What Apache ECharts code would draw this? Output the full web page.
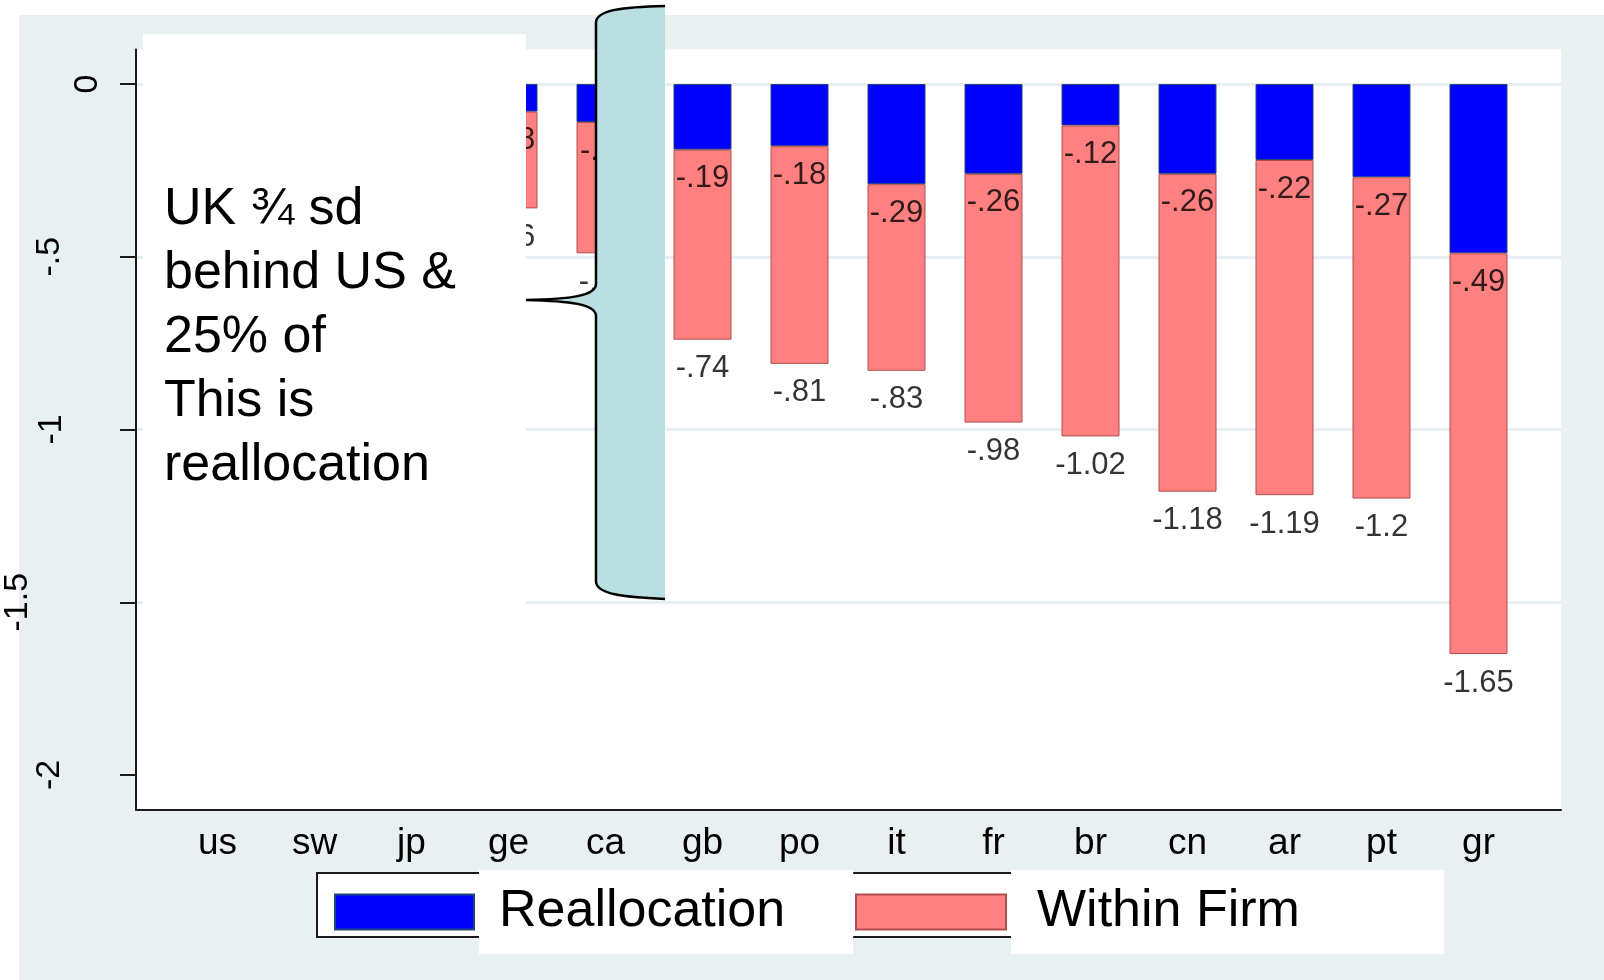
<!DOCTYPE html>
<html>
<head>
<meta charset="utf-8">
<title>Management gap decomposition</title>
<script src="https://cdn.jsdelivr.net/npm/echarts@6/dist/echarts.min.js"></script>
<style>
  html, body { margin: 0; padding: 0; background: #fff; }
  /* grey slide panel behind the chart */
  #panel { position: absolute; left: 19px; top: 15px; width: 1585px; height: 965px; background: #e8f0f2; }
  #chart { position: absolute; left: 0; top: 0; width: 1604px; height: 980px; }
</style>
</head>
<body>
<div id="panel"></div>
<div id="chart"></div>
<script>
// data (us, sw, jp sit under the text box)
const countries = ['us', 'sw', 'jp', 'ge', 'ca', 'gb', 'po', 'it', 'fr', 'br', 'cn', 'ar', 'pt', 'gr']
const reallocation = [0, -0.05, -0.06, -0.08, -0.11, -0.19, -0.18, -0.29, -0.26, -0.12, -0.26, -0.22, -0.27, -0.49]
const totalGap = [0, -0.21, -0.27, -0.36, -0.49, -0.74, -0.81, -0.83, -0.98, -1.02, -1.18, -1.19, -1.2, -1.65]
const yTicks = [0, -0.5, -1, -1.5, -2]
const yTickLabels = ['0', '-.5', '-1', '-1.5', '-2']
const noteLines = ['UK ¾ sd', 'behind US &', '25% of', 'This is', 'reallocation']

// within firm part = rest of the bar below the reallocation part
const withinFirm = totalGap.map((t, i) => +(t - reallocation[i]).toFixed(2))

const FONT = '"Liberation Sans", Arial, Helvetica, sans-serif'
const INK = '#1a1a1a'
// stata style numbers: -.19 instead of -0.19
const fmt = v => String(v).replace(/^(-?)0\./, '$1.')

const chart = echarts.init(document.getElementById('chart'))

const valueLabel = {
    show: true,
    position: 'bottom',
    distance: 13,
    fontSize: 31,
    lineHeight: 31,
    color: '#000',
    fontFamily: FONT,
    formatter: p => fmt(p.value)
}

const option = {
    backgroundColor: 'transparent',
    animation: false,
    textStyle: { fontFamily: FONT },
    grid: [
        // frame: white plot area and the two axis lines
        { left: 136, right: 43, top: 49.45, bottom: 170.45, show: true, backgroundColor: '#fff', borderWidth: 0 },
        // ticks and grid lines, from -2 to 0
        { left: 136, right: 43, top: 84, bottom: 205 },
        // bars
        { left: 169, right: 77, top: 84, bottom: 205 }
    ],
    xAxis: [
        {
            gridIndex: 0, type: 'value', min: 0, max: 1,
            axisLine: { show: true, onZero: false, lineStyle: { color: INK, width: 2 } },
            axisTick: { show: false }, axisLabel: { show: false }, splitLine: { show: false }
        },
        { gridIndex: 1, type: 'value', min: 0, max: 1, show: false },
        {
            gridIndex: 2, type: 'category', data: countries,
            axisLine: { show: false }, axisTick: { show: false }, splitLine: { show: false },
            axisLabel: { interval: 0, margin: 50, fontSize: 37, lineHeight: 37, color: '#000', fontFamily: FONT }
        }
    ],
    yAxis: [
        {
            gridIndex: 0, type: 'value', min: -2.1, max: 0.1,
            axisLine: { show: true, onZero: false, lineStyle: { color: INK, width: 2 } },
            axisTick: { show: false }, axisLabel: { show: false }, splitLine: { show: false }
        },
        {
            gridIndex: 1, type: 'value', min: -2, max: 0, interval: 0.5,
            axisLine: { show: false },
            axisTick: { show: true, length: 16, lineStyle: { color: INK, width: 2 } },
            axisLabel: { show: false },
            splitLine: { show: true, showMinLine: false, lineStyle: { color: '#e6eef1', width: 3 } }
        },
        { gridIndex: 2, type: 'value', min: -2, max: 0, show: false }
    ],
    legend: [
        {
            data: ['Reallocation'], left: 334, top: 870, padding: 0,
            itemWidth: 139, itemHeight: 35, selectedMode: false, icon: 'rect',
            textStyle: {
                fontSize: 52, lineHeight: 56, color: '#000', fontFamily: FONT,
                backgroundColor: '#fff', padding: [14, 68, 14, 20]
            }
        },
        {
            data: ['Within Firm'], left: 855, top: 870, padding: 0,
            itemWidth: 150, itemHeight: 35, selectedMode: false, icon: 'rect',
            textStyle: {
                fontSize: 52, lineHeight: 56, color: '#000', fontFamily: FONT,
                backgroundColor: '#fff', padding: [14, 144, 14, 26]
            }
        }
    ],
    series: [
        {
            name: 'Reallocation', type: 'bar', stack: 'gap',
            xAxisIndex: 2, yAxisIndex: 2, barWidth: 58,
            data: reallocation,
            itemStyle: { color: '#0000ff', borderColor: '#22467a', borderWidth: 1 }
        },
        {
            name: 'Within Firm', type: 'bar', stack: 'gap',
            xAxisIndex: 2, yAxisIndex: 2, barWidth: 58,
            data: withinFirm,
            itemStyle: { color: '#ff8080', borderColor: '#b04c4c', borderWidth: 1 }
        },
        {
            // reallocation value, printed just under the blue part
            type: 'scatter', xAxisIndex: 2, yAxisIndex: 2, silent: true,
            symbolSize: 1, itemStyle: { color: 'rgba(0,0,0,0)' },
            data: reallocation, label: valueLabel
        },
        {
            // total gap, printed under the bar
            type: 'scatter', xAxisIndex: 2, yAxisIndex: 2, silent: true,
            symbolSize: 1, itemStyle: { color: 'rgba(0,0,0,0)' },
            data: totalGap, label: valueLabel
        }
    ]
}
chart.setOption(option)

// y tick labels are rotated and sit at uneven distances from the axis
const labelX = [88, 50, 52, 18, 50]
const yLabels = yTicks.map((v, i) => ({
    type: 'text',
    id: 'ylab' + i,
    x: labelX[i],
    y: chart.convertToPixel({ yAxisIndex: 1 }, v),
    rotation: Math.PI / 2,
    z: 5,
    style: {
        text: yTickLabels[i], fontSize: 34, fontFamily: FONT, fill: '#000',
        align: 'center', verticalAlign: 'middle',
        textAlign: 'center', textVerticalAlign: 'middle'
    }
}))

chart.setOption({
    graphic: [
        // outer frame of the stata legend
        {
            type: 'rect', id: 'legendFrame', z: 1,
            shape: { x: 317, y: 873, width: 1062, height: 64 },
            style: { fill: '#fff', stroke: INK, lineWidth: 2 }
        },
        // white note box pasted over the first bars
        {
            type: 'rect', id: 'noteBox', z: 10,
            shape: { x: 143, y: 34, width: 383, height: 766 },
            style: { fill: '#fff' }
        },
        {
            type: 'text', id: 'noteText', z: 11, x: 164, y: 177.5,
            style: {
                text: noteLines.join('\n'), fontSize: 52, fontFamily: FONT, fill: '#000',
                lineHeight: 64, verticalAlign: 'top', textVerticalAlign: 'top'
            }
        }
    ].concat(yLabels)
})

// curly brace pasted on the slide, drawn straight on the zrender layer
const bracePath = 'M665,6 C622,7 597,10 596,22 L596,284 C596,296 570,299 526,300 ' +
    'C570,301 596,304 596,316 L596,582 C597,594 622,597 665,599'
const zr = chart.getZr()
zr.add(echarts.graphic.makePath(bracePath + ' Z', {
    z: 20, silent: true,
    style: { fill: '#b9dfe2', stroke: null }
}))
zr.add(echarts.graphic.makePath(bracePath, {
    z: 21, silent: true,
    style: { fill: null, stroke: '#000', lineWidth: 2.5 }
}))
</script>
</body>
</html>
